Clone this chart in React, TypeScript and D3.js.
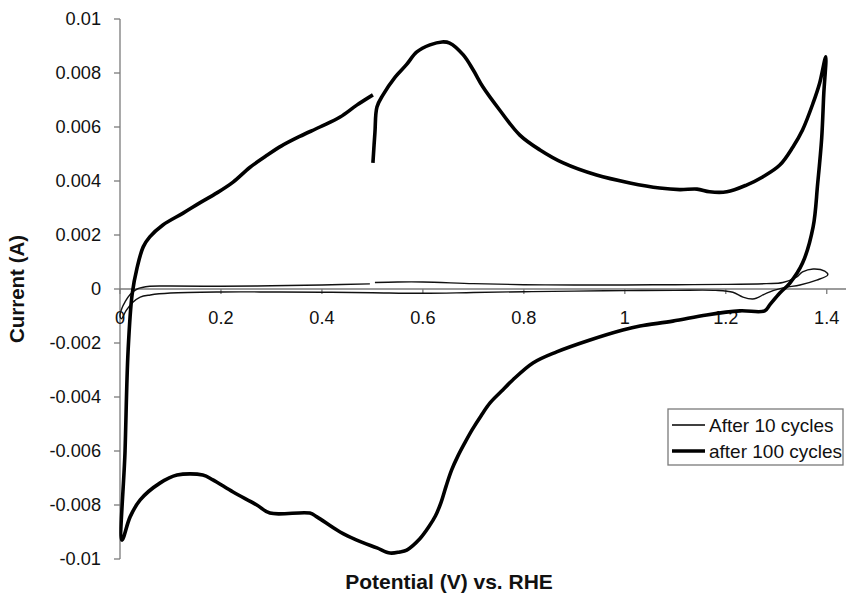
import React from "react";
import * as d3 from "d3";

// after 100 cycles (thick) – starts at 0.5 V on the anodic branch
const thickV = [
  0.501, 0.505, 0.509, 0.521, 0.545, 0.567, 0.588, 0.614, 0.638, 0.653, 0.68, 0.7, 0.719, 0.752, 0.792, 0.832,
  0.878, 0.944, 1.01, 1.069, 1.109, 1.143, 1.168, 1.202, 1.241, 1.273, 1.307, 1.333, 1.352, 1.373, 1.386, 1.398,
  1.394, 1.39, 1.382, 1.373, 1.352, 1.327, 1.307, 1.287, 1.277, 1.228, 1.162, 1.095, 1.03, 0.996, 0.931, 0.865,
  0.818, 0.778, 0.755, 0.733, 0.715, 0.698, 0.683, 0.669, 0.657, 0.646, 0.636, 0.625, 0.612, 0.594, 0.568, 0.554,
  0.535, 0.509, 0.469, 0.436, 0.39, 0.376, 0.297, 0.271, 0.224, 0.184, 0.164, 0.113, 0.079, 0.04, 0.02, 0.004,
  0.01, 0.016, 0.024, 0.034, 0.046, 0.059, 0.085, 0.125, 0.158, 0.192, 0.224, 0.257, 0.291, 0.32, 0.356, 0.396,
  0.436, 0.469, 0.501,
];
const thickI = [
  0.00467, 0.0058, 0.00674, 0.00719, 0.00785, 0.0083, 0.00878, 0.00904, 0.00915, 0.00911, 0.00867, 0.0081, 0.00748,
  0.00663, 0.0057, 0.00515, 0.00467, 0.00422, 0.00393, 0.00374, 0.00368, 0.0037, 0.0036, 0.0036, 0.00385, 0.00415,
  0.00459, 0.00526, 0.00589, 0.00689, 0.00763, 0.0086,
  0.0072, 0.0056, 0.0039, 0.0023, 0.00096, 0.00022, -0.00015, -0.00059, -0.00081, -0.00081, -0.00096, -0.00119,
  -0.00137, -0.00152, -0.00189, -0.00233, -0.00274, -0.00337, -0.0038, -0.00422, -0.0047, -0.0052, -0.0057,
  -0.0062, -0.0067, -0.0073, -0.0079, -0.0084, -0.0088, -0.00925, -0.00967, -0.00974, -0.00978, -0.00959, -0.0093,
  -0.009, -0.00844, -0.0083, -0.0083, -0.008, -0.00752, -0.00707, -0.00689, -0.00689, -0.00719, -0.00781, -0.00844,
  -0.0093,
  -0.006, -0.0023, -0.0002, 0.0008, 0.00156, 0.00193, 0.00237, 0.00281, 0.00319, 0.00356, 0.00396, 0.0045,
  0.00495, 0.0053, 0.00565, 0.006, 0.00637, 0.00681, 0.00719,
];

// After 10 cycles (thin)
const thinV = [
  0.505, 0.55, 0.6, 0.7, 0.8, 0.9, 1.0, 1.1, 1.2, 1.28, 1.313, 1.34, 1.352, 1.373, 1.396, 1.402, 1.38, 1.347,
  1.313, 1.281, 1.262, 1.253, 1.234, 1.214, 1.18, 1.1, 1.0, 0.9, 0.8, 0.7, 0.6, 0.5, 0.4, 0.3, 0.2, 0.1, 0.06,
  0.04, 0.025, 0.012, 0.003, 0.0, 0.004, 0.01, 0.02, 0.034, 0.059, 0.1, 0.2, 0.3, 0.4, 0.495,
];
const thinI = [
  0.00024, 0.00026, 0.00026, 0.0002, 0.00016, 0.00015, 0.00015, 0.00016, 0.00017, 0.0002, 0.00024, 0.00044,
  0.00063, 0.00074, 0.00066, 0.00052, 0.00033, 0.00015, 0.00004, -0.00015, -0.00033, -0.00037, -0.0003, -0.00012,
  -0.00005, -0.00005, -0.00006, -0.00008, -0.0001, -0.00013, -0.00016, -0.00014, -0.00012, -0.00011, -0.00011,
  -0.00015, -0.00022, -0.0003, -0.0005, -0.0008, -0.0011, -0.001, -0.0007, -0.00048, -0.0002, 0.0, 0.0001,
  0.00011, 0.0001, 0.00012, 0.00015, 0.00019,
];

const xTicks = [0, 0.2, 0.4, 0.6, 0.8, 1, 1.2, 1.4];
const yTicks = [-0.01, -0.008, -0.006, -0.004, -0.002, 0, 0.002, 0.004, 0.006, 0.008, 0.01];
const seriesNames = ["After 10 cycles", "after 100 cycles"];

const W = 846;
const H = 593;
const font = "'Liberation Sans', Arial, sans-serif";
const axisColor = "#7a7a7a";

export default function App() {
  const x = d3.scaleLinear().domain([0, 1.45]).range([120, 852]);
  const y = d3.scaleLinear().domain([-0.01, 0.01]).range([559, 19]);

  const makePath = (vs: number[], is: number[]) =>
    d3
      .line<number>()
      .x((v) => x(v))
      .y((_, i) => y(is[i]))
      .curve(d3.curveCatmullRom.alpha(0.5))(vs) || undefined;

  return (
    <svg
      width={W}
      height={H}
      style={{ position: "absolute", left: 0, top: 0, background: "#fff" }}
      fontFamily={font}
    >
      {/* y axis */}
      <line x1={x(0)} x2={x(0)} y1={y(-0.01)} y2={y(0.01)} stroke={axisColor} strokeWidth={1.3} />
      {yTicks.map((t) => (
        <g key={`y${t}`}>
          <line x1={x(0) - 6} x2={x(0)} y1={y(t)} y2={y(t)} stroke={axisColor} strokeWidth={1.3} />
          <text x={101} y={y(t)} dy="0.35em" textAnchor="end" fontSize={18.2} fill="#111">
            {String(+t.toFixed(3))}
          </text>
        </g>
      ))}

      {/* x axis */}
      <line x1={x(0)} x2={W} y1={y(0)} y2={y(0)} stroke={axisColor} strokeWidth={1.3} />
      {xTicks.map((t) => (
        <g key={`x${t}`}>
          <line x1={x(t)} x2={x(t)} y1={y(0)} y2={y(0) + 5} stroke={axisColor} strokeWidth={1.3} />
          <text x={x(t)} y={324} textAnchor="middle" fontSize={18.2} fill="#111">
            {String(t)}
          </text>
        </g>
      ))}

      {/* curves */}
      <path d={makePath(thinV, thinI)} fill="none" stroke="#111" strokeWidth={1.4} strokeLinejoin="round" />
      <path d={makePath(thickV, thickI)} fill="none" stroke="#000" strokeWidth={3.6} strokeLinejoin="round" />

      {/* axis titles */}
      <text
        transform={`translate(24,${y(0)}) rotate(-90)`}
        textAnchor="middle"
        fontSize={20.5}
        fontWeight="bold"
        fill="#111"
      >
        Current (A)
      </text>
      <text x={449} y={589} textAnchor="middle" fontSize={21} fontWeight="bold" fill="#111">
        Potential (V) vs. RHE
      </text>

      {/* legend */}
      <rect x={668} y={409} width={175} height={56} fill="#fff" stroke={axisColor} strokeWidth={1.3} />
      {seriesNames.map((name, i) => (
        <g key={name} transform={`translate(0,${425 + i * 26})`}>
          <line x1={672} x2={705} y1={0} y2={0} stroke="#000" strokeWidth={i === 0 ? 1.4 : 3.6} />
          <text x={709} y={0} dy="0.35em" fontSize={19} fill="#111">
            {name}
          </text>
        </g>
      ))}
    </svg>
  );
}
